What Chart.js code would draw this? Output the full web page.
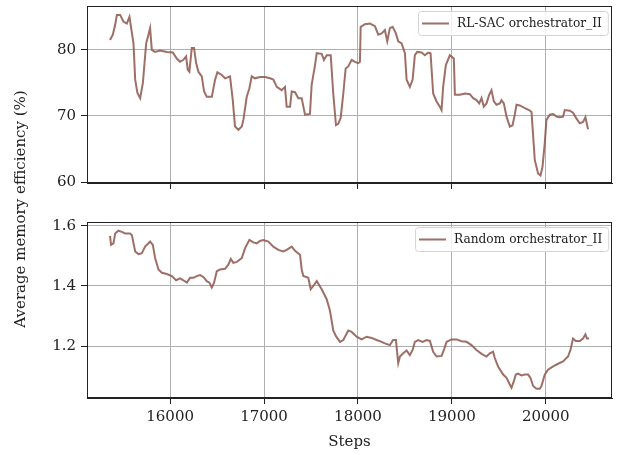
<!DOCTYPE html>
<html><head><meta charset="utf-8">
<script src="https://cdn.jsdelivr.net/npm/chart.js@4.4.1/dist/chart.umd.min.js"></script>
<style>
html,body{margin:0;padding:0;background:#fff;}
#wrap{position:relative;width:617px;height:455px;background:#fff;}
canvas{position:absolute;left:0;top:0;}
</style></head><body>
<div id="wrap"><canvas id="c1" width="617" height="455"></canvas><canvas id="c2" width="617" height="455"></canvas></div>
<script>
const xTickValues = [16000, 17000, 18000, 19000, 20000];
const rlTicks = [60, 70, 80];
const rndTicks = [1.2, 1.4, 1.6];
const yTitle = 'Average memory efficiency (%)';
const xTitle = 'Steps';
const rlLabel = 'RL-SAC orchestrator_II';
const rndLabel = 'Random orchestrator_II';

const rlSteps = [15360,15390,15415,15433,15468,15503,15539,15567,15610,15628,15652,15681,15710,15745,15769,15787,15805,15840,15894,15965,16029,16071,16106,16141,16170,16188,16205,16231,16255,16277,16301,16337,16362,16390,16444,16479,16503,16550,16585,16638,16667,16691,16727,16763,16780,16816,16844,16869,16904,16957,17011,17064,17099,17135,17188,17223,17241,17277,17295,17330,17365,17401,17436,17489,17507,17543,17561,17614,17638,17667,17710,17737,17766,17790,17816,17844,17869,17897,17933,17968,18003,18021,18029,18074,18128,18181,18216,18252,18287,18312,18340,18369,18404,18429,18465,18500,18518,18553,18582,18606,18631,18678,18713,18748,18773,18801,18837,18872,18890,18907,18936,18979,19021,19032,19085,19138,19191,19227,19262,19291,19316,19340,19369,19397,19422,19447,19475,19511,19528,19553,19582,19617,19646,19670,19688,19723,19777,19822,19848,19883,19918,19944,19965,19989,20007,20042,20078,20114,20149,20184,20202,20255,20290,20327,20362,20397,20422,20450];
const rlValues = [81.5,82.3,83.8,85.3,85.3,84.3,84.0,85.0,81.0,75.5,73.5,72.7,75.0,81.0,82.3,83.3,80.0,79.7,79.9,79.7,79.6,78.7,78.2,78.5,79.0,77.0,76.7,80.3,80.3,78.0,76.7,76.0,73.7,72.9,72.9,75.5,76.6,76.2,75.7,76.0,72.4,68.4,67.9,68.4,69.4,72.9,74.2,76.0,75.7,75.9,75.9,75.7,75.5,74.4,73.9,74.4,71.4,71.4,73.7,73.6,72.7,72.7,70.2,70.3,74.7,77.7,79.5,79.4,78.5,79.2,79.2,73.4,68.6,68.8,69.7,73.4,77.2,77.5,78.5,78.2,78.0,78.2,83.5,83.9,84.0,83.6,82.3,82.5,83.0,81.3,83.3,83.5,82.5,81.3,81.0,79.5,75.5,74.4,75.5,79.2,79.7,79.6,79.2,79.6,79.5,73.4,72.2,71.4,70.9,74.4,77.7,79.2,78.7,73.2,73.2,73.4,73.3,72.7,72.4,71.9,72.7,71.4,71.9,73.2,73.9,72.2,71.7,71.9,72.4,71.9,69.9,68.4,68.6,70.2,71.7,71.6,71.2,70.9,70.6,63.3,61.3,61.0,62.3,65.9,69.4,70.2,70.3,69.9,69.8,69.9,70.9,70.8,70.5,69.6,68.9,69.1,69.8,68.0];

const rndSteps = [15360,15371,15397,15415,15450,15486,15521,15574,15593,15628,15663,15699,15734,15787,15816,15840,15876,15912,15965,16018,16064,16106,16141,16178,16213,16248,16284,16319,16354,16390,16418,16444,16468,16497,16532,16585,16620,16646,16673,16710,16763,16798,16844,16886,16922,16957,16993,17046,17099,17152,17205,17241,17295,17330,17383,17401,17418,17471,17497,17524,17561,17614,17667,17702,17737,17766,17809,17844,17897,17933,17986,18039,18093,18146,18199,18252,18287,18340,18375,18404,18429,18447,18482,18518,18553,18582,18606,18641,18688,18731,18766,18801,18837,18890,18915,18944,18997,19050,19103,19156,19209,19262,19316,19369,19404,19439,19457,19492,19546,19582,19617,19635,19660,19681,19705,19741,19777,19812,19837,19865,19901,19936,19954,19989,20024,20078,20131,20184,20237,20263,20290,20319,20362,20397,20422,20439,20460];
const rndValues = [1.567,1.537,1.542,1.575,1.584,1.580,1.575,1.575,1.569,1.515,1.506,1.509,1.531,1.548,1.537,1.493,1.455,1.444,1.440,1.433,1.419,1.425,1.419,1.411,1.427,1.427,1.433,1.436,1.430,1.416,1.411,1.395,1.411,1.449,1.455,1.457,1.471,1.490,1.477,1.480,1.493,1.526,1.553,1.545,1.542,1.550,1.553,1.548,1.531,1.520,1.515,1.520,1.531,1.517,1.504,1.455,1.433,1.427,1.389,1.400,1.416,1.389,1.356,1.318,1.252,1.233,1.214,1.220,1.252,1.247,1.231,1.222,1.231,1.227,1.220,1.214,1.209,1.203,1.220,1.220,1.143,1.165,1.176,1.185,1.170,1.187,1.214,1.220,1.214,1.220,1.217,1.181,1.165,1.167,1.187,1.214,1.222,1.222,1.216,1.214,1.203,1.187,1.174,1.165,1.176,1.181,1.160,1.132,1.105,1.094,1.072,1.061,1.083,1.105,1.108,1.102,1.105,1.105,1.094,1.067,1.058,1.058,1.067,1.105,1.121,1.132,1.141,1.149,1.165,1.187,1.225,1.217,1.217,1.225,1.239,1.225,1.225];

const FONT = "'DejaVu Serif', serif";
const TEXT = '#222';
const LINE = 'rgba(140,86,75,0.85)';
Chart.defaults.font.family = FONT;
Chart.defaults.color = TEXT;

const framePlugin = {
  id: 'frame',
  afterDraw(chart, args, opts) {
    const {ctx, chartArea: a} = chart;
    ctx.save();
    const ds = chart.data.datasets[0];
    ctx.font = '12.2px ' + FONT;
    const tw = ctx.measureText(ds.label).width;
    const bw = 3 + 27 + 9 + tw + 6;
    const bh = 24;
    const bx = Math.round(a.right - 4 - bw), by = Math.round(a.top + 5);
    ctx.beginPath();
    if (ctx.roundRect) ctx.roundRect(bx + 0.5, by + 0.5, bw, bh, 3); else ctx.rect(bx + 0.5, by + 0.5, bw, bh);
    ctx.fillStyle = 'rgba(255,255,255,0.8)';
    ctx.fill();
    ctx.strokeStyle = '#d4d4d4';
    ctx.lineWidth = 1;
    ctx.stroke();
    ctx.beginPath();
    ctx.moveTo(bx + 4, by + bh / 2 + 0.5);
    ctx.lineTo(bx + 31, by + bh / 2 + 0.5);
    ctx.strokeStyle = LINE;
    ctx.lineWidth = 2;
    ctx.stroke();
    ctx.fillStyle = TEXT;
    ctx.textBaseline = 'middle';
    ctx.textAlign = 'left';
    ctx.fillText(ds.label, bx + 39, by + bh / 2 + 1);
    ctx.strokeStyle = '#222';
    ctx.lineWidth = 1;
    ctx.strokeRect(Math.round(a.left) + 0.5, Math.round(a.top) + 0.5, Math.round(a.right - a.left) - 1, Math.round(a.bottom - a.top) - 1);
    if (opts.yTitle) {
      ctx.font = '15px ' + FONT;
      ctx.translate(21, 209);
      ctx.rotate(-Math.PI / 2);
      ctx.textAlign = 'center';
      ctx.textBaseline = 'middle';
      ctx.fillText(opts.yTitle, 0, 0);
    }
    ctx.restore();
  }
};

function makeChart(id, steps, values, label, yMin, yMax, yTickVals, yFmt, bottom) {
  const pts = steps.map((s, i) => ({x: s, y: values[i]}));
  return new Chart(document.getElementById(id), {
    type: 'line',
    data: {datasets: [{label, data: pts, borderColor: LINE, borderWidth: 2, pointRadius: 0, tension: 0, fill: false}]},
    options: {
      responsive: false, animation: false, devicePixelRatio: 1,
      layout: {padding: bottom ? {top: 222, bottom: 0, left: 0, right: 5} : {top: 6, bottom: 266, left: 0, right: 5}},
      plugins: {legend: {display: false}, tooltip: {enabled: false}, frame: {yTitle: bottom ? null : yTitle}},
      scales: {
        x: {
          type: 'linear', min: 15115, max: 20705,
          afterBuildTicks: s => { s.ticks = xTickValues.map(v => ({value: v})); },
          afterFit: s => { s.height = bottom ? 57 : 6; s.paddingLeft = 0; s.paddingRight = 0; },
          grid: {color: '#b0b0b0', lineWidth: 1, tickLength: 6, tickColor: '#222', drawTicks: true},
          border: {display: true, color: '#222', width: 1},
          ticks: {display: bottom, padding: 4, font: {size: 15}, color: TEXT, maxRotation: 0, callback: v => String(v)},
          title: {display: bottom, text: xTitle, font: {size: 15}, color: TEXT, padding: {top: 0, bottom: 4}}
        },
        y: {
          min: yMin, max: yMax,
          afterBuildTicks: s => { s.ticks = yTickVals.map(v => ({value: v})); },
          afterFit: s => { s.width = 87; s.paddingTop = 0; s.paddingBottom = 0; },
          grid: {color: '#b0b0b0', lineWidth: 1, tickLength: 6, tickColor: '#222', drawTicks: true},
          border: {display: true, color: '#222', width: 1},
          ticks: {padding: 5, font: {size: 15}, color: TEXT, callback: yFmt}
        }
      }
    },
    plugins: [framePlugin]
  });
}

makeChart('c1', rlSteps, rlValues, rlLabel, 59.85, 86.65, rlTicks, v => String(v), false);
makeChart('c2', rndSteps, rndValues, rndLabel, 1.027, 1.613, rndTicks, v => v.toFixed(1), true);
</script>
</body></html>
